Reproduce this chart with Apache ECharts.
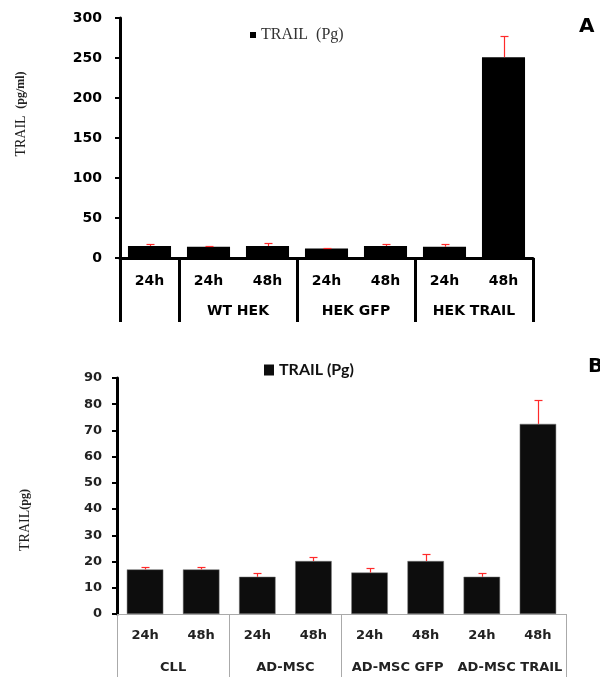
<!DOCTYPE html>
<html>
<head>
<meta charset="utf-8">
<script src="https://cdn.jsdelivr.net/npm/echarts@6/dist/echarts.min.js"></script>
<style>
  html, body { margin: 0; padding: 0; background: #fff; }
  #chart { width: 600px; height: 677px; }
</style>
</head>
<body>
<div id="chart"></div>
<script>
// panel A
const catsA = ['24h', '24h', '48h', '24h', '48h', '24h', '48h'];
const valsA = [15, 14, 15, 12, 15, 14, 251];
const sdA = [3, 1, 4, 1, 3, 4, 27];
const groupsA = ['', 'WT HEK', 'HEK GFP', 'HEK TRAIL'];
const spansA = [1, 2, 2, 2];
const dividersA = [0, 1, 3, 5, 7];
const ticksA = [0, 50, 100, 150, 200, 250, 300];

// panel B
const catsB = ['24h', '48h', '24h', '48h', '24h', '48h', '24h', '48h'];
const valsB = [17, 17, 14.2, 20.2, 15.8, 20.2, 14.2, 72.5];
const sdB = [1.1, 1, 1.6, 1.5, 1.6, 2.6, 1.6, 9.3];
const groupsB = ['CLL', 'AD-MSC', 'AD-MSC GFP', 'AD-MSC TRAIL'];
const spansB = [2, 2, 2, 2];
const dividersB = [0, 2, 4, 8];
const ticksB = [0, 10, 20, 30, 40, 50, 60, 70, 80, 90];

const SANS = "'DejaVu Sans', Verdana, sans-serif";
const SERIF = "'Liberation Serif', 'Times New Roman', serif";
const ERR_RED = '#ff2a2a';

// centre of each group, in bar units
function groupCenters(spans) {
    let start = 0;
    return spans.map((s) => {
        const c = start + s / 2;
        start += s;
        return c;
    });
}

function groupAxis(gridIndex, names, spans, dividers, opts) {
    const centers = groupCenters(spans);
    const total = spans.reduce((a, b) => a + b, 0);
    return {
        type: 'value',
        gridIndex: gridIndex,
        position: 'bottom',
        min: 0,
        max: total,
        axisLine: { show: false },
        splitLine: { show: false },
        axisTick: {
            show: true,
            customValues: dividers,
            length: opts.tickLength,
            lineStyle: { color: opts.lineColor, width: opts.lineWidth },
        },
        axisLabel: {
            customValues: centers,
            margin: opts.labelMargin,
            fontFamily: SANS,
            fontWeight: 'bold',
            fontSize: opts.fontSize,
            color: opts.textColor,
            formatter: (v) => {
                const i = centers.findIndex((c) => Math.abs(c - v) < 1e-6);
                return i >= 0 ? names[i] : '';
            },
        },
    };
}

function errorBar(params, api) {
    const base = api.coord([api.value(0), api.value(1)]);
    const top = api.coord([api.value(0), api.value(2)]);
    const x = Math.round(base[0]) + 0.5;
    const yTop = Math.round(top[1]) + 0.5;
    const style = { stroke: ERR_RED, lineWidth: 1.2, fill: null };
    return {
        type: 'group',
        children: [
            { type: 'line', shape: { x1: x, y1: base[1], x2: x, y2: yTop }, style: style },
            { type: 'line', shape: { x1: x - 4, y1: yTop, x2: x + 4, y2: yTop }, style: style },
        ],
    };
}

const chart = echarts.init(document.getElementById('chart'), null, { renderer: 'canvas' });

const option = {
    animation: false,
    backgroundColor: '#fff',
    title: [
        { text: 'A', left: 579, top: 17, padding: 0, textStyle: { fontFamily: SANS, fontWeight: 'bold', fontSize: 20, color: '#000' } },
        { text: 'B', left: 588, top: 357, padding: 0, textStyle: { fontFamily: SANS, fontWeight: 'bold', fontSize: 20, color: '#000' } },
    ],
    legend: [
        {
            data: [{ name: 'TRAIL  (Pg)', icon: 'rect' }],
            left: 250, top: 27, padding: 0,
            itemWidth: 6, itemHeight: 6,
            itemStyle: { borderWidth: 0 },
            textStyle: { fontFamily: SERIF, fontSize: 16, color: '#333' },
        },
        {
            data: [{ name: 'TRAIL (Pg)', icon: 'rect' }],
            left: 264, top: 362, padding: 0,
            itemWidth: 10, itemHeight: 11,
            itemStyle: { borderWidth: 0 },
            textStyle: { fontFamily: "Lato, 'DejaVu Sans', sans-serif", fontWeight: 'bold', fontSize: 16, color: '#111' },
        },
    ],
    grid: [
        { left: 120, top: 18, width: 413, height: 240 },
        { left: 117, top: 378, width: 449, height: 236 },
    ],
    xAxis: [
        {
            type: 'category', gridIndex: 0, data: catsA,
            axisLine: { lineStyle: { color: '#000', width: 3 } },
            axisTick: { show: false },
            axisLabel: { margin: 16, fontFamily: SANS, fontWeight: 'bold', fontSize: 14, color: '#000' },
        },
        groupAxis(0, groupsA, spansA, dividersA, {
            tickLength: 64, lineColor: '#000', lineWidth: 3, labelMargin: 46, fontSize: 14, textColor: '#000',
        }),
        {
            type: 'category', gridIndex: 1, data: catsB,
            axisLine: { lineStyle: { color: '#aaa', width: 1 } },
            axisTick: { show: false },
            axisLabel: { margin: 15, fontFamily: SANS, fontWeight: 'bold', fontSize: 13, color: '#222' },
        },
        groupAxis(1, groupsB, spansB, dividersB, {
            tickLength: 70, lineColor: '#aaa', lineWidth: 1, labelMargin: 47, fontSize: 13, textColor: '#222',
        }),
    ],
    yAxis: [
        {
            type: 'value', gridIndex: 0,
            min: ticksA[0], max: ticksA[ticksA.length - 1], interval: ticksA[1] - ticksA[0],
            splitLine: { show: false },
            axisLine: { show: true, lineStyle: { color: '#000', width: 3 } },
            axisTick: { show: true, length: 5, lineStyle: { color: '#000', width: 2 } },
            axisLabel: { margin: 18, fontFamily: SANS, fontWeight: 'bold', fontSize: 14, color: '#000' },
        },
        {
            type: 'value', gridIndex: 1,
            min: ticksB[0], max: ticksB[ticksB.length - 1], interval: ticksB[1] - ticksB[0],
            splitLine: { show: false },
            axisLine: { show: true, lineStyle: { color: '#000', width: 3 } },
            axisTick: { show: true, length: 5, lineStyle: { color: '#000', width: 2 } },
            axisLabel: { margin: 15, fontFamily: SANS, fontWeight: 'bold', fontSize: 13, color: '#222' },
        },
    ],
    graphic: [
        {
            type: 'text', x: 21, y: 114, rotation: Math.PI / 2,
            style: {
                text: '{a|TRAIL}  {b|(pg/ml)}',
                align: 'center', verticalAlign: 'middle',
                rich: {
                    a: { fontFamily: SERIF, fontSize: 14, fill: '#222' },
                    b: { fontFamily: SERIF, fontSize: 12, fontWeight: 'bold', fill: '#222' },
                },
            },
        },
        {
            type: 'text', x: 25, y: 520, rotation: Math.PI / 2,
            style: {
                text: '{a|TRAIL}{b|(pg)}',
                align: 'center', verticalAlign: 'middle',
                rich: {
                    a: { fontFamily: SERIF, fontSize: 14, fill: '#222' },
                    b: { fontFamily: SERIF, fontSize: 12, fontWeight: 'bold', fill: '#222' },
                },
            },
        },
    ],
    series: [
        {
            name: 'TRAIL  (Pg)', type: 'bar', xAxisIndex: 0, yAxisIndex: 0,
            data: valsA, barWidth: '73%',
            itemStyle: { color: '#000' },
        },
        {
            type: 'custom', xAxisIndex: 0, yAxisIndex: 0, z: 5,
            renderItem: errorBar,
            itemStyle: { color: ERR_RED },
            encode: { x: 0, y: [1, 2] },
            data: valsA.map((v, i) => [i, v, v + sdA[i]]),
        },
        {
            name: 'TRAIL (Pg)', type: 'bar', xAxisIndex: 2, yAxisIndex: 1,
            data: valsB, barWidth: '65%',
            itemStyle: { color: '#0d0d0d', borderColor: '#777', borderWidth: 0.5 },
        },
        {
            type: 'custom', xAxisIndex: 2, yAxisIndex: 1, z: 5,
            renderItem: errorBar,
            itemStyle: { color: ERR_RED },
            encode: { x: 0, y: [1, 2] },
            data: valsB.map((v, i) => [i, v, v + sdB[i]]),
        },
    ],
};

chart.setOption(option);
</script>
</body>
</html>
